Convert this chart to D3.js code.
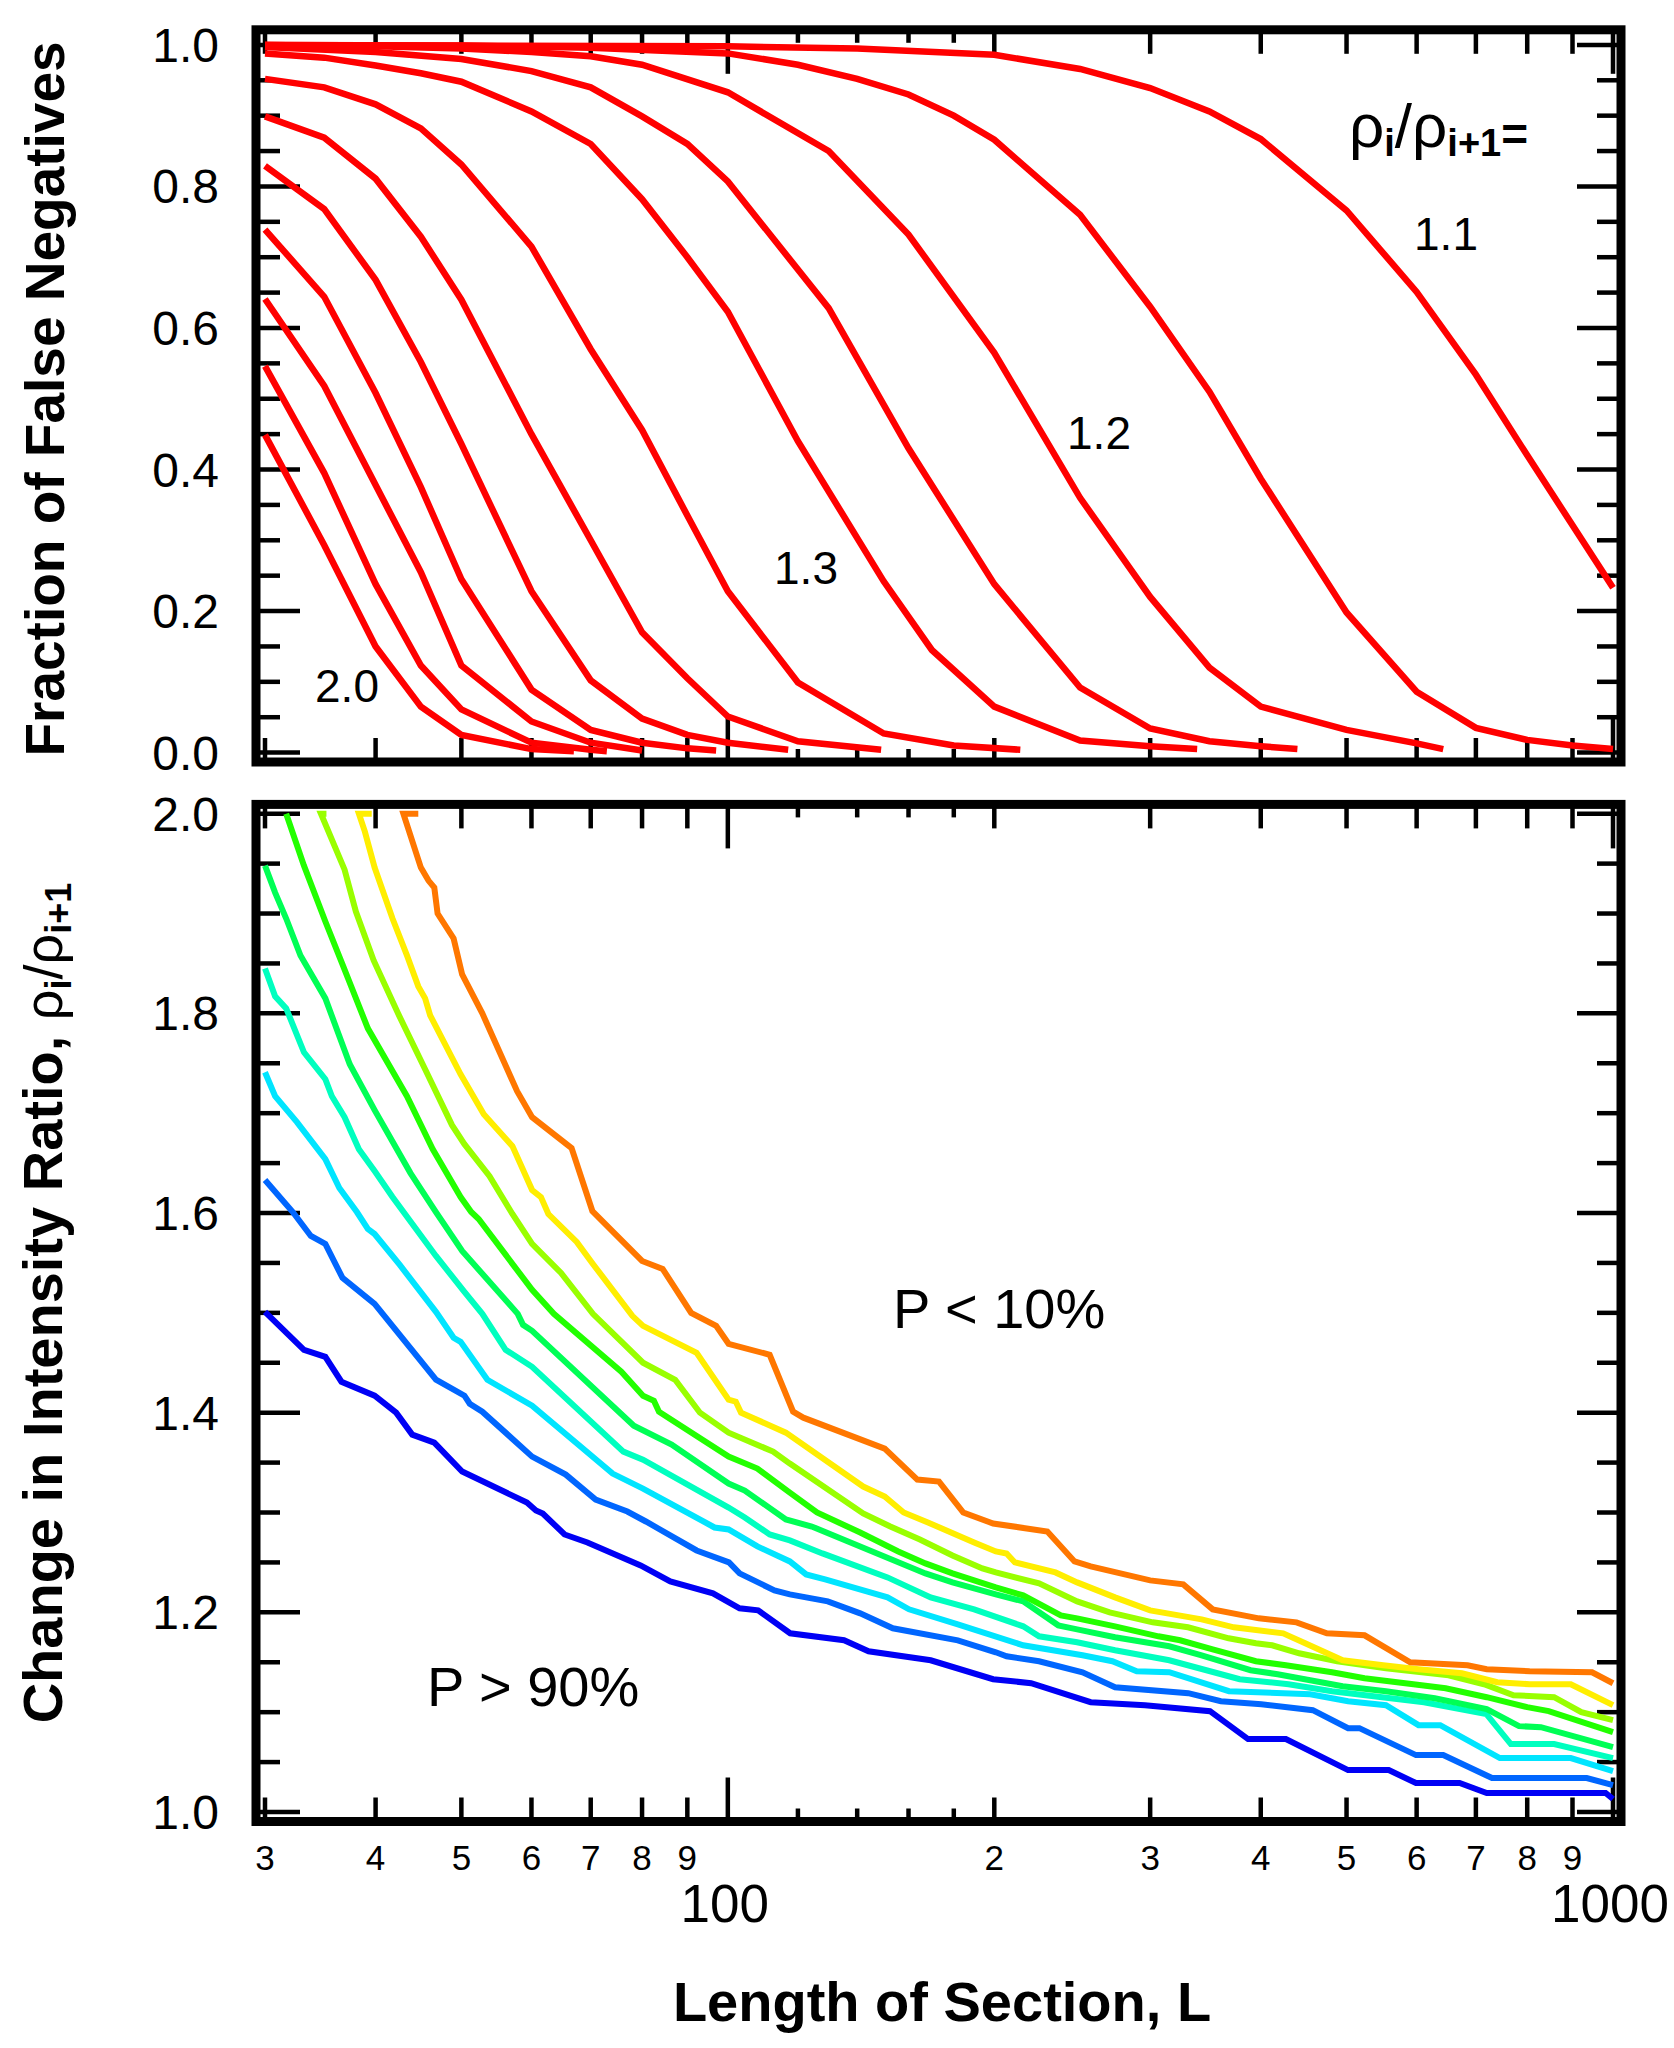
<!DOCTYPE html>
<html>
<head>
<meta charset="utf-8">
<script src="https://cdn.jsdelivr.net/npm/d3@7"></script>
<style>
  body { margin: 0; background: #fff; }
  svg { display: block; }
  text { font-family: "Liberation Sans", Arial, Helvetica, sans-serif; fill: #000; }
</style>
</head>
<body>
<div id="chart"></div>
<script>
// ---------- data: top panel, fraction of false negatives vs L ----------
var ratioNames = ["2.0", "1.9", "1.8", "1.7", "1.6", "1.5", "1.4", "1.3", "1.25", "1.2", "1.15", "1.1"];

var fn20 = [[30, .449], [35, .293], [40, .150], [45, .065], [50, .025], [60, .005], [67, .002]];
var fn19 = [[30, .546], [35, .395], [40, .238], [45, .123], [50, .061], [60, .014], [70, .004], [73, .002]];
var fn18 = [[30, .641], [35, .518], [40, .378], [45, .255], [50, .123], [60, .044], [70, .014], [80, .003]];
var fn17 = [[30, .739], [35, .644], [40, .508], [45, .375], [50, .245], [60, .089], [70, .032], [80, .014], [90, .006], [97, .003]];
var fn16 = [[30, .829], [35, .768], [40, .668], [45, .552], [50, .436], [60, .228], [70, .102], [80, .048], [90, .025], [100, .014], [117, .004]];
var fn15 = [[30, .899], [35, .869], [40, .811], [45, .729], [50, .640], [60, .450], [70, .300], [80, .170], [90, .105], [100, .051], [120, .016], [149, .004]];
var fn14 = [[30, .952], [35, .940], [40, .916], [45, .882], [50, .831], [60, .715], [70, .570], [80, .456], [90, .335], [100, .228], [120, .099], [150, .027], [180, .010], [214, .004]];
var fn13 = [[30, .988], [35, .982], [40, .971], [45, .960], [50, .948], [60, .906], [70, .860], [80, .782], [90, .700], [100, .623], [120, .440], [150, .242], [170, .145], [200, .065], [250, .017], [300, .009], [339, .005]];
var fn125 = [[30, .997], [40, .990], [50, .980], [60, .963], [70, .940], [80, .899], [90, .860], [100, .807], [130, .628], [160, .430], [200, .238], [250, .092], [300, .034], [350, .016], [400, .009], [440, .005]];
var fn12 = [[30, 1.0], [40, .998], [50, .995], [60, .990], [70, .984], [80, .972], [100, .933], [130, .850], [160, .732], [200, .565], [250, .360], [300, .220], [350, .120], [400, .065], [500, .032], [600, .013], [643, .005]];
var fn115 = [[30, 1.0], [50, .999], [70, .996], [100, .988], [120, .972], [140, .952], [160, .930], [180, .900], [200, .866], [250, .760], [300, .630], [350, .510], [400, .387], [500, .198], [600, .086], [700, .035], [800, .018], [900, .010], [1000, .005]];
var fn11 = [[30, 1.0], [100, .998], [140, .995], [200, .986], [250, .966], [300, .939], [350, .906], [400, .867], [500, .766], [600, .651], [700, .534], [800, .420], [1000, .233]];

var fnSeries = [fn20, fn19, fn18, fn17, fn16, fn15, fn14, fn13, fn125, fn12, fn115, fn11];

// ---------- data: bottom panel, probability contours of ratio vs L ----------
var pLevels = ["90%", "80%", "70%", "60%", "50%", "40%", "30%", "20%", "10%"];
var pColors = ["#0000f5", "#0066ff", "#00e5ff", "#00ffbf", "#00ff55", "#22ff00", "#99ff00", "#ffee00", "#ff7700"];

var p90 = [[30, 1.501], [33.2, 1.463], [35.1, 1.456], [36.6, 1.431], [39.9, 1.417], [42.2, 1.400], [44.0, 1.378], [46.6, 1.370], [50.1, 1.341], [59.3, 1.310], [60.7, 1.302], [61.8, 1.299], [65.4, 1.278], [69.4, 1.270], [79.7, 1.247], [86.1, 1.231], [96.2, 1.219], [103.1, 1.204], [108.2, 1.202], [117.6, 1.179], [135.3, 1.172], [144.2, 1.161], [169.5, 1.152], [199.4, 1.133], [220.1, 1.129], [257, 1.110], [296, 1.107], [350.5, 1.101], [387, 1.073], [427, 1.073], [502, 1.042], [558, 1.042], [599, 1.029], [671, 1.029], [720, 1.019], [981, 1.019], [1000, 1.013]];
var p80 = [[30, 1.633], [32.25, 1.601], [33.8, 1.577], [35.1, 1.569], [36.7, 1.535], [39.9, 1.509], [46.8, 1.433], [50.4, 1.417], [51.1, 1.409], [52.8, 1.401], [60.1, 1.356], [65.6, 1.338], [70.9, 1.313], [77, 1.301], [80.8, 1.291], [92.2, 1.262], [100.3, 1.250], [103.1, 1.239], [112.9, 1.222], [117.5, 1.218], [129.7, 1.211], [141.1, 1.199], [153.6, 1.184], [181.9, 1.172], [200.8, 1.160], [206.5, 1.156], [224.7, 1.151], [251.6, 1.140], [273.8, 1.125], [331.3, 1.119], [360.6, 1.111], [400.6, 1.108], [458, 1.102], [502, 1.084], [517, 1.084], [599, 1.057], [643, 1.057], [730, 1.034], [934, 1.034], [1000, 1.027]];
var p70 = [[30, 1.741], [30.8, 1.717], [32.6, 1.691], [35.1, 1.654], [36.4, 1.625], [38.1, 1.601], [39.2, 1.584], [39.9, 1.579], [42.6, 1.548], [46.8, 1.501], [49.0, 1.475], [49.9, 1.471], [53.5, 1.433], [60.1, 1.407], [74.1, 1.339], [80.2, 1.324], [96.6, 1.285], [100.2, 1.283], [108.0, 1.266], [117.5, 1.251], [122.6, 1.238], [128.8, 1.233], [151.5, 1.215], [160.2, 1.203], [181.9, 1.188], [215.6, 1.167], [251.6, 1.157], [271.9, 1.151], [289.7, 1.141], [315.3, 1.140], [368.3, 1.121], [455, 1.118], [502, 1.111], [554, 1.107], [603, 1.087], [638, 1.087], [745, 1.054], [896, 1.054], [1000, 1.041]];
var p60 = [[30, 1.845], [30.8, 1.817], [31.7, 1.805], [33.2, 1.761], [35.1, 1.734], [35.7, 1.717], [36.9, 1.696], [38.3, 1.664], [39.9, 1.642], [41.8, 1.616], [46.8, 1.557], [50.4, 1.521], [52.8, 1.499], [56.1, 1.463], [60.1, 1.446], [76.2, 1.361], [80.2, 1.353], [100.2, 1.305], [104.5, 1.295], [111.5, 1.278], [117.5, 1.272], [127.9, 1.259], [151.5, 1.235], [169.5, 1.215], [189.8, 1.203], [215.6, 1.186], [224.7, 1.176], [248.1, 1.170], [273.8, 1.162], [315.3, 1.152], [378.7, 1.133], [430, 1.128], [481.5, 1.121], [611.6, 1.110], [719.5, 1.098], [766.6, 1.068], [858, 1.068], [1000, 1.054]];
var p50 = [[30, 1.948], [30.8, 1.921], [31.7, 1.895], [32.9, 1.858], [35.1, 1.815], [37.4, 1.749], [39.9, 1.703], [43.8, 1.640], [46.8, 1.601], [50.1, 1.562], [57.9, 1.499], [58.7, 1.488], [60.1, 1.482], [78.3, 1.387], [86.4, 1.368], [100.2, 1.329], [104.5, 1.322], [116.3, 1.293], [124.4, 1.286], [141.1, 1.266], [167.2, 1.239], [179.4, 1.230], [200.8, 1.218], [215.6, 1.211], [236.2, 1.187], [248.1, 1.183], [273.8, 1.175], [315.3, 1.166], [343, 1.157], [389.6, 1.142], [418, 1.138], [495, 1.126], [554, 1.121], [629, 1.114], [720, 1.103], [783, 1.086], [829, 1.085], [1000, 1.065]];
var p40 = [[31.7, 2.0], [33.2, 1.948], [35.1, 1.892], [36.7, 1.849], [39.2, 1.785], [43.4, 1.717], [46.4, 1.664], [49.9, 1.616], [51.3, 1.601], [52.3, 1.594], [60.1, 1.523], [63.6, 1.499], [75.8, 1.441], [80.2, 1.417], [82.5, 1.412], [83.6, 1.401], [100.2, 1.356], [108.0, 1.344], [117.5, 1.320], [126.1, 1.300], [141.1, 1.280], [155.8, 1.261], [167.2, 1.249], [179.4, 1.239], [200.8, 1.225], [215.6, 1.217], [237.8, 1.197], [248.1, 1.194], [273.8, 1.186], [306.5, 1.176], [324.3, 1.172], [353, 1.163], [395, 1.151], [427, 1.147], [481.5, 1.140], [524, 1.134], [595, 1.128], [647, 1.124], [720, 1.115], [800, 1.105], [846, 1.101], [1000, 1.080]];
var p30 = [[35.2, 2.0], [34.7, 2.0], [36.9, 1.944], [38.0, 1.902], [39.8, 1.853], [42.4, 1.800], [45.5, 1.744], [48.8, 1.688], [50.4, 1.669], [53.8, 1.637], [57.1, 1.599], [60.1, 1.569], [64.8, 1.540], [70.4, 1.499], [80.2, 1.450], [87.2, 1.433], [93.0, 1.400], [100.2, 1.380], [112.5, 1.361], [117.5, 1.349], [142.2, 1.299], [152.6, 1.286], [164.8, 1.273], [179.4, 1.257], [193.9, 1.244], [200.8, 1.240], [224.7, 1.229], [248.1, 1.211], [270, 1.200], [302, 1.190], [331, 1.185], [368, 1.174], [395, 1.169], [412, 1.167], [442, 1.159], [488, 1.151], [554, 1.144], [652, 1.137], [715, 1.128], [772, 1.117], [858, 1.115], [921, 1.100], [1000, 1.092]];
var p20 = [[39.6, 2.0], [38.3, 2.0], [38.9, 1.982], [39.9, 1.946], [41.8, 1.895], [43.4, 1.858], [44.7, 1.827], [45.5, 1.815], [46.1, 1.798], [49.9, 1.739], [53.0, 1.699], [57.1, 1.667], [60.1, 1.623], [61.5, 1.616], [62.7, 1.599], [67.5, 1.571], [70.4, 1.549], [78.0, 1.497], [80.2, 1.487], [92.2, 1.460], [100.2, 1.413], [102.1, 1.411], [103.5, 1.400], [116.3, 1.380], [142.2, 1.326], [150.4, 1.316], [158, 1.300], [168.3, 1.290], [189.8, 1.270], [200.8, 1.261], [206.5, 1.259], [211, 1.250], [234.5, 1.240], [248.1, 1.230], [273.8, 1.215], [300, 1.202], [343, 1.193], [373, 1.185], [424, 1.179], [449, 1.169], [495, 1.152], [550, 1.147], [603, 1.143], [675, 1.139], [740, 1.130], [805, 1.128], [896, 1.128], [1000, 1.107]];
var p10 = [[44.7, 2.0], [43.0, 2.0], [45.0, 1.946], [45.9, 1.933], [46.6, 1.926], [47.0, 1.900], [49.0, 1.875], [50.1, 1.839], [52.8, 1.800], [57.8, 1.722], [60.1, 1.696], [66.6, 1.665], [70.3, 1.602], [80.0, 1.552], [84.4, 1.544], [90.9, 1.500], [97.0, 1.487], [100.2, 1.469], [111.5, 1.458], [118.5, 1.401], [121.7, 1.395], [150.4, 1.364], [163.7, 1.333], [173.2, 1.331], [184.5, 1.300], [199.4, 1.289], [229.6, 1.281], [246.4, 1.251], [257, 1.246], [300, 1.232], [327, 1.228], [353, 1.203], [398, 1.194], [439, 1.190], [475, 1.179], [524, 1.177], [590, 1.150], [685, 1.147], [720, 1.143], [805, 1.141], [947, 1.140], [1000, 1.129]];

var pSeries = [p90, p80, p70, p60, p50, p40, p30, p20, p10];

// ---------- ticks and labels ----------
var xSmallTicks = [30, 40, 50, 60, 70, 80, 90, 200, 300, 400, 500, 600, 700, 800, 900];
var xSmallLabels = ["3", "4", "5", "6", "7", "8", "9", "2", "3", "4", "5", "6", "7", "8", "9"];
var xSubTicks = [120, 140, 160, 180];
var xDecadeTicks = [100, 1000];
var xDecadeLabels = ["100", "1000"];

var topYMajor = [0, 0.2, 0.4, 0.6, 0.8, 1.0];
var topYLabels = ["0.0", "0.2", "0.4", "0.6", "0.8", "1.0"];
var botYMajor = [1.0, 1.2, 1.4, 1.6, 1.8, 2.0];
var botYLabels = ["1.0", "1.2", "1.4", "1.6", "1.8", "2.0"];

// ---------- layout ----------
var svgWidth = 1674;
var svgHeight = 2048;

var topFrame = { left: 256, right: 1621, top: 29.8, bottom: 762 };
var botFrame = { left: 256, right: 1621, top: 804.4, bottom: 1821.5 };

var majorLen = 44, minorLen = 24, subLen = 13;

var svg = d3.select("#chart")
  .append("svg")
  .attr("width", svgWidth)
  .attr("height", svgHeight);

// scales
var xScale = d3.scaleLog().domain([30, 1000]).range([265, 1613]);
var yTop = d3.scaleLinear().domain([0, 1]).range([752.6, 44.9]);
var yBot = d3.scaleLinear().domain([1, 2]).range([1812, 813.7]);

// clip the curves to the inside of each frame
var defs = svg.append("defs");
[["clipTop", topFrame], ["clipBot", botFrame]].forEach(function(c) {
  defs.append("clipPath").attr("id", c[0])
    .append("rect")
    .attr("x", c[1].left)
    .attr("y", c[1].top)
    .attr("width", c[1].right - c[1].left)
    .attr("height", c[1].bottom - c[1].top);
});

// draw the ticks on all four sides of a panel
function drawTicks(g, frame, yScale, yMajorVals, yMinorVals) {
  var tickG = g.append("g")
    .attr("stroke", "#000")
    .attr("stroke-width", 4.5);

  function vTick(val, len) {
    var px = xScale(val);
    tickG.append("line").attr("x1", px).attr("x2", px)
      .attr("y1", frame.bottom).attr("y2", frame.bottom - len);
    tickG.append("line").attr("x1", px).attr("x2", px)
      .attr("y1", frame.top).attr("y2", frame.top + len);
  }
  function hTick(val, len) {
    var py = yScale(val);
    tickG.append("line").attr("x1", frame.left).attr("x2", frame.left + len)
      .attr("y1", py).attr("y2", py);
    tickG.append("line").attr("x1", frame.right).attr("x2", frame.right - len)
      .attr("y1", py).attr("y2", py);
  }

  xSmallTicks.forEach(function(v) { vTick(v, minorLen); });
  xSubTicks.forEach(function(v) { vTick(v, subLen); });
  xDecadeTicks.forEach(function(v) { vTick(v, majorLen); });
  yMinorVals.forEach(function(v) { hTick(v, minorLen); });
  yMajorVals.forEach(function(v) { hTick(v, majorLen); });
}

function drawFrame(g, frame) {
  g.append("rect")
    .attr("x", frame.left)
    .attr("y", frame.top)
    .attr("width", frame.right - frame.left)
    .attr("height", frame.bottom - frame.top)
    .attr("fill", "none")
    .attr("stroke", "#000")
    .attr("stroke-width", 9);
}

function yLabels(g, yScale, vals, labels) {
  g.selectAll(null)
    .data(vals)
    .enter()
    .append("text")
    .attr("x", 219)
    .attr("y", d => yScale(d) + 17)
    .attr("text-anchor", "end")
    .attr("font-size", "48px")
    .text((d, i) => labels[i]);
}

// ---------- top panel ----------
var topG = svg.append("g");

var topMinor = d3.range(0, 1.0001, 0.05).filter(v => Math.abs(v * 5 - Math.round(v * 5)) > 1e-6);
drawTicks(topG, topFrame, yTop, topYMajor, topMinor);

var topLine = d3.line()
  .x(d => xScale(d[0]))
  .y(d => yTop(d[1]));

topG.append("g")
  .attr("clip-path", "url(#clipTop)")
  .selectAll("path")
  .data(fnSeries)
  .enter()
  .append("path")
  .attr("d", topLine)
  .attr("fill", "none")
  .attr("stroke", "#ff0000")
  .attr("stroke-width", 6.5)
  .attr("stroke-linejoin", "miter");

drawFrame(topG, topFrame);
yLabels(topG, yTop, topYMajor, topYLabels);

// curve annotations
var annot = [
  { t: ratioNames[11], x: 1446, y: 250 },
  { t: ratioNames[9], x: 1099, y: 449 },
  { t: ratioNames[7], x: 806, y: 584 },
  { t: ratioNames[0], x: 347, y: 702 }
];
topG.selectAll(null)
  .data(annot)
  .enter()
  .append("text")
  .attr("x", d => d.x)
  .attr("y", d => d.y)
  .attr("text-anchor", "middle")
  .attr("font-size", "46px")
  .text(d => d.t);

// rho_i / rho_i+1 =
var rhoText = topG.append("text")
  .attr("x", 1349)
  .attr("y", 147)
  .attr("font-size", "62px");
rhoText.append("tspan").text("\u03c1");
rhoText.append("tspan").attr("font-size", "38px").attr("font-weight", "bold").attr("dy", 9).text("i");
rhoText.append("tspan").attr("dy", -9).text("/");
rhoText.append("tspan").text("\u03c1");
rhoText.append("tspan").attr("font-size", "38px").attr("font-weight", "bold").attr("dy", 9).text("i+1");
rhoText.append("tspan").attr("font-size", "46px").attr("font-weight", "bold").attr("dy", -6).text("=");

// y title
topG.append("text")
  .attr("transform", "translate(64, 399) rotate(-90)")
  .attr("text-anchor", "middle")
  .attr("font-size", "55px")
  .attr("font-weight", "bold")
  .text("Fraction of False Negatives");

// ---------- bottom panel ----------
var botG = svg.append("g");

var botMinor = d3.range(1, 2.0001, 0.05).filter(v => Math.abs(v * 5 - Math.round(v * 5)) > 1e-6);
drawTicks(botG, botFrame, yBot, botYMajor, botMinor);

var botLine = d3.line()
  .x(d => xScale(d[0]))
  .y(d => yBot(d[1]));

botG.append("g")
  .attr("clip-path", "url(#clipBot)")
  .selectAll("path")
  .data(pSeries)
  .enter()
  .append("path")
  .attr("d", botLine)
  .attr("fill", "none")
  .attr("stroke", (d, i) => pColors[i])
  .attr("stroke-width", 6)
  .attr("stroke-linejoin", "miter");

drawFrame(botG, botFrame);
yLabels(botG, yBot, botYMajor, botYLabels);

// region notes
botG.append("text")
  .attr("x", 893).attr("y", 1328)
  .attr("font-size", "56px")
  .text("P < 10%");
botG.append("text")
  .attr("x", 427).attr("y", 1706)
  .attr("font-size", "56px")
  .text("P > 90%");

// x tick labels
botG.selectAll(null)
  .data(xSmallTicks)
  .enter()
  .append("text")
  .attr("x", d => xScale(d))
  .attr("y", 1870)
  .attr("text-anchor", "middle")
  .attr("font-size", "35px")
  .text((d, i) => xSmallLabels[i]);

botG.selectAll(null)
  .data(xDecadeTicks)
  .enter()
  .append("text")
  .attr("x", d => xScale(d) - 3)
  .attr("y", 1922)
  .attr("text-anchor", "middle")
  .attr("font-size", "53px")
  .text((d, i) => xDecadeLabels[i]);

// y title with greek ratio
var botTitle = botG.append("text")
  .attr("transform", "translate(62, 1303) rotate(-90)")
  .attr("text-anchor", "middle")
  .attr("font-size", "56px");
botTitle.append("tspan").attr("font-weight", "bold").text("Change in Intensity Ratio, ");
botTitle.append("tspan").attr("font-size", "54px").text("\u03c1");
botTitle.append("tspan").attr("font-size", "36px").attr("font-weight", "bold").attr("dy", 9).text("i");
botTitle.append("tspan").attr("font-size", "54px").attr("dy", -9).text("/");
botTitle.append("tspan").attr("font-size", "54px").text("\u03c1");
botTitle.append("tspan").attr("font-size", "36px").attr("font-weight", "bold").attr("dy", 9).text("i+1");

// x title
svg.append("text")
  .attr("x", 942)
  .attr("y", 2021)
  .attr("text-anchor", "middle")
  .attr("font-size", "56px")
  .attr("font-weight", "bold")
  .text("Length of Section, L");
</script>
</body>
</html>
